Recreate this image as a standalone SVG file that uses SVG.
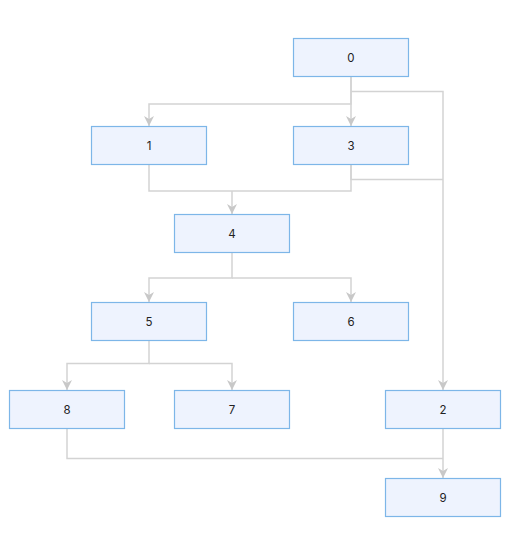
<svg xmlns="http://www.w3.org/2000/svg" width="519" height="539" viewBox="0 0 519 539">
<style>
.n rect{fill:#eef3fe;stroke:#7db6e8;stroke-width:1.2}
.n text{font-family:"Inter","Liberation Sans",sans-serif;font-size:11.5px;fill:#222;text-anchor:middle;dominant-baseline:central}
.e path{fill:none;stroke:#d3d3d3;stroke-width:1.5}
</style>
<defs>
<marker id="a" viewBox="0 0 10 10" refX="10" refY="5" markerWidth="10" markerHeight="10" markerUnits="userSpaceOnUse" orient="auto">
<path d="M0,0 L10,5 L0,10 L3,5 Z" fill="#c8c8c8"/>
</marker>
</defs>
<rect width="519" height="539" fill="#fff"/>
<g class="e">
<path d="M351,77 V104 H149 V126" marker-end="url(#a)"/>
<path d="M351,77 V126" marker-end="url(#a)"/>
<path d="M351,91.5 H443 V390" marker-end="url(#a)"/>
<path d="M351,165 V179.5 H443"/>
<path d="M149,165 V191 H351 V165"/>
<path d="M232,191 V214" marker-end="url(#a)"/>
<path d="M232,253 V278 H149 V302" marker-end="url(#a)"/>
<path d="M232,278 H351 V302" marker-end="url(#a)"/>
<path d="M149,341 V363.5 H67 V390" marker-end="url(#a)"/>
<path d="M149,363.5 H232 V390" marker-end="url(#a)"/>
<path d="M67,429 V458.5 H443"/>
<path d="M443,429 V478" marker-end="url(#a)"/>
</g>
<g id="n0" class="n"><rect x="293.5" y="38.5" width="115" height="38"/><text x="351" y="57.5">0</text></g>
<g id="n1" class="n"><rect x="91.5" y="126.5" width="115" height="38"/><text x="149" y="145.5">1</text></g>
<g id="n3" class="n"><rect x="293.5" y="126.5" width="115" height="38"/><text x="351" y="145.5">3</text></g>
<g id="n4" class="n"><rect x="174.5" y="214.5" width="115" height="38"/><text x="232" y="233.5">4</text></g>
<g id="n5" class="n"><rect x="91.5" y="302.5" width="115" height="38"/><text x="149" y="321.5">5</text></g>
<g id="n6" class="n"><rect x="293.5" y="302.5" width="115" height="38"/><text x="351" y="321.5">6</text></g>
<g id="n8" class="n"><rect x="9.5" y="390.5" width="115" height="38"/><text x="67" y="409.5">8</text></g>
<g id="n7" class="n"><rect x="174.5" y="390.5" width="115" height="38"/><text x="232" y="409.5">7</text></g>
<g id="n2" class="n"><rect x="385.5" y="390.5" width="115" height="38"/><text x="443" y="409.5">2</text></g>
<g id="n9" class="n"><rect x="385.5" y="478.5" width="115" height="38"/><text x="443" y="497.5">9</text></g>
</svg>
